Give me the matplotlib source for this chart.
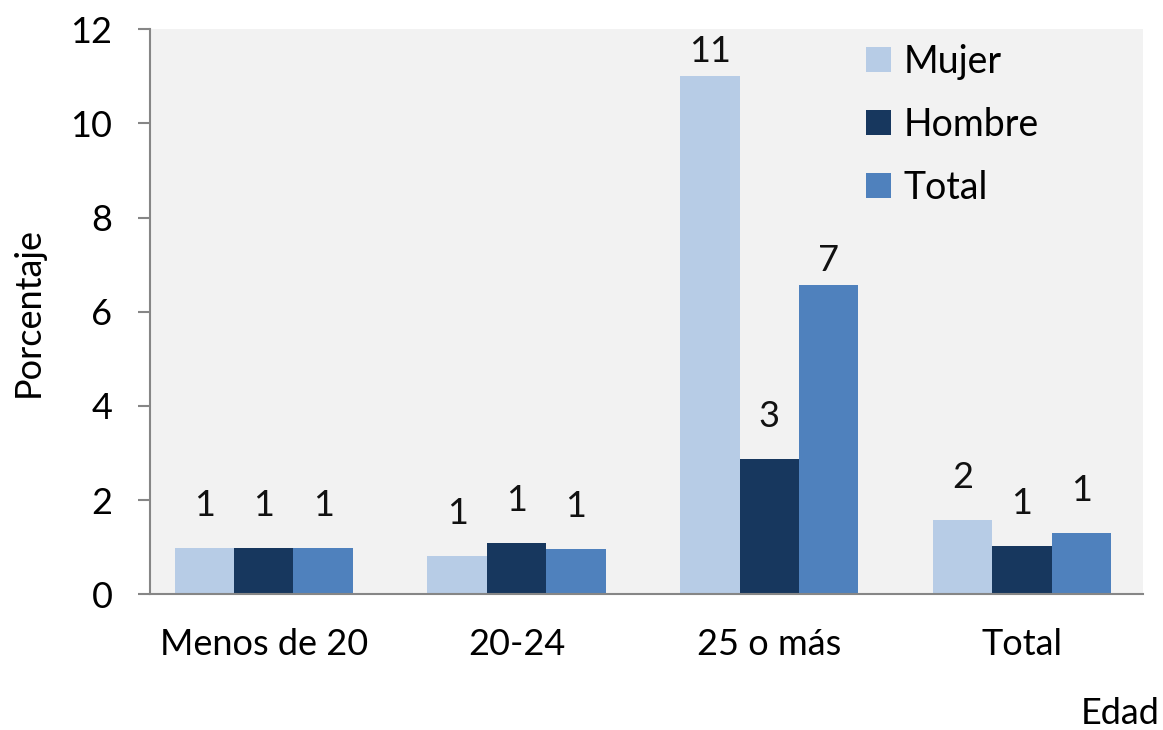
import numpy as np
import matplotlib
matplotlib.use('Agg')
import matplotlib.pyplot as plt

# data
categories = ['Menos de 20', '20-24', '25 o más', 'Total']
series = ['Mujer', 'Hombre', 'Total']
mujer = [0.98, 0.81, 11.0, 1.57]
hombre = [0.98, 1.08, 2.87, 1.02]
total = [0.98, 0.96, 6.56, 1.30]
labels_mujer = ['1', '1', '11', '2']
labels_hombre = ['1', '1', '3', '1']
labels_total = ['1', '1', '7', '1']

colors = ['#B7CCE6', '#17375E', '#4F81BD']

plt.rcParams['font.family'] = ['Lato', 'DejaVu Sans']
FS = 26

fig = plt.figure(figsize=(11.63, 7.3), dpi=100, facecolor='white')
ax = fig.add_axes([0.129, 0.186, 0.854, 0.774])
ax.set_facecolor('#F2F2F2')

x = np.arange(len(categories))
width = 0.235
values = [mujer, hombre, total]
texts = [labels_mujer, labels_hombre, labels_total]

for i, (name, vals, labs) in enumerate(zip(series, values, texts)):
    pos = x + (i - 1) * width
    ax.bar(pos, vals, width, color=colors[i], label=name, zorder=2)
    for px, v, t in zip(pos, vals, labs):
        pad = 6 if v > 5 else 19
        ax.annotate(t, (px, v), xytext=(0, pad), textcoords='offset points',
                    ha='center', va='bottom', fontsize=FS, color='#111111')

ax.set_ylim(0, 12)
ax.set_yticks(range(0, 13, 2))
ax.set_xlim(-0.45, 3.48)
ax.set_xticks(x)
ax.set_xticklabels(categories)
ax.tick_params(axis='y', labelsize=FS, length=9, width=1.5, color='#868686',
               pad=18)
ax.tick_params(axis='x', labelsize=FS, length=0, pad=24)

for side in ['top', 'right']:
    ax.spines[side].set_visible(False)
for side in ['left', 'bottom']:
    ax.spines[side].set_color('#868686')
    ax.spines[side].set_linewidth(1.5)

ax.set_ylabel('Porcentaje', fontsize=FS)
ax.yaxis.set_label_coords(-0.106, 0.5)
fig.text(0.997, 0.008, 'Edad', fontsize=FS, ha='right', va='baseline')

ax.legend(loc='upper left', bbox_to_anchor=(0.716, 0.986),
          bbox_transform=fig.transFigure, frameon=False, fontsize=FS + 1,
          handlelength=0.65, handleheight=0.65, handletextpad=0.35,
          labelspacing=0.72)

fig.savefig('out.png', dpi=100, facecolor='white')
